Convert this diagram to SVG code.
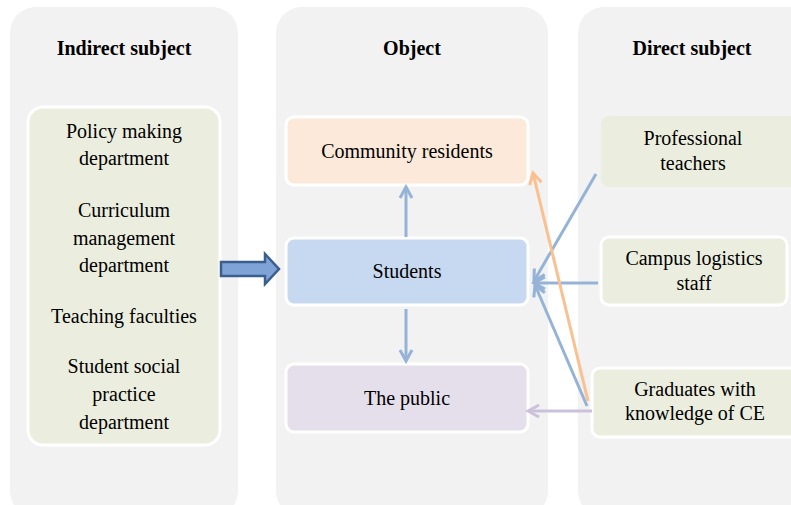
<svg xmlns="http://www.w3.org/2000/svg" width="791" height="505" viewBox="0 0 791 505">
<defs>
<style>
.panel{fill:#f2f2f2}
.t{font-family:'Liberation Serif','Times New Roman',serif;font-size:20px;fill:#000;text-anchor:middle}
.h{font-family:'Liberation Serif','Times New Roman',serif;font-size:20px;font-weight:bold;fill:#000;text-anchor:middle}
.box{stroke:#fff;stroke-width:3}
.blue{stroke:#95b3d7;stroke-width:3;fill:none}
.orange{stroke:#fac090;stroke-width:3;fill:none}
.purple{stroke:#ccc1da;stroke-width:3;fill:none}
</style>
<marker id="mb" markerWidth="16" markerHeight="16" refX="13" refY="8" orient="auto" markerUnits="userSpaceOnUse"><path d="M2,2 L13,8 L2,14" fill="none" stroke="#95b3d7" stroke-width="3"/></marker>
<marker id="mo" markerWidth="16" markerHeight="16" refX="13" refY="8" orient="auto" markerUnits="userSpaceOnUse"><path d="M2,2 L13,8 L2,14" fill="none" stroke="#fac090" stroke-width="3"/></marker>
<marker id="mp" markerWidth="16" markerHeight="16" refX="13" refY="8" orient="auto" markerUnits="userSpaceOnUse"><path d="M2,2 L13,8 L2,14" fill="none" stroke="#ccc1da" stroke-width="3"/></marker>
</defs>
<rect width="791" height="505" fill="#fff"/>
<g id="panel-indirect">
<rect class="panel" x="10" y="7" width="228" height="510" rx="26"/>
<text class="h" x="124" y="55">Indirect subject</text>
</g>
<g id="panel-object">
<rect class="panel" x="276" y="7" width="272" height="510" rx="26"/>
<text class="h" x="412" y="55">Object</text>
</g>
<g id="panel-direct">
<rect class="panel" x="578" y="7" width="240" height="510" rx="26"/>
<text class="h" x="692" y="55">Direct subject</text>
</g>
<g id="indirect-list">
<rect class="box" x="28" y="107" width="192" height="338" rx="15" fill="#ebeedf"/>
<text class="t" x="124" y="138">Policy making</text>
<text class="t" x="124" y="165">department</text>
<text class="t" x="124" y="217">Curriculum</text>
<text class="t" x="124" y="245">management</text>
<text class="t" x="124" y="272">department</text>
<text class="t" x="124" y="323">Teaching faculties</text>
<text class="t" x="124" y="373">Student social</text>
<text class="t" x="124" y="401">practice</text>
<text class="t" x="124" y="429">department</text>
</g>
<g id="community">
<rect class="box" x="286" y="117" width="242" height="68" rx="8" fill="#fce9da"/>
<text class="t" x="407" y="158">Community residents</text>
</g>
<g id="students">
<rect class="box" x="286" y="238" width="242" height="67" rx="8" fill="#c6d9f0"/>
<text class="t" x="407" y="278">Students</text>
</g>
<g id="public">
<rect class="box" x="286" y="364" width="242" height="68" rx="8" fill="#e5dfec"/>
<text class="t" x="407" y="405">The public</text>
</g>
<g id="teachers">
<rect x="601" y="116" width="200" height="71" rx="8" fill="#ebeedf"/>
<text class="t" x="693" y="145">Professional</text>
<text class="t" x="693" y="170">teachers</text>
</g>
<g id="logistics">
<rect class="box" x="601" y="237" width="186" height="68" rx="8" fill="#ebeedf"/>
<text class="t" x="694" y="265">Campus logistics</text>
<text class="t" x="694" y="290">staff</text>
</g>
<g id="graduates">
<rect class="box" x="592" y="368" width="210" height="69" rx="8" fill="#ebeedf"/>
<text class="t" x="695" y="396">Graduates with</text>
<text class="t" x="695" y="420">knowledge of CE</text>
</g>
<g id="connectors">
<path d="M221,262 H265 V254 L279,269 L265,284 V276 H221 Z" fill="#7fa3d6" stroke="#3a5f8f" stroke-width="2.5"/>
<line class="blue" x1="406" y1="237" x2="406" y2="187" marker-end="url(#mb)"/>
<line class="blue" x1="406" y1="309" x2="406" y2="361" marker-end="url(#mb)"/>
<line class="blue" x1="596" y1="174" x2="534" y2="281" marker-end="url(#mb)"/>
<line class="blue" x1="598" y1="283" x2="534" y2="283" marker-end="url(#mb)"/>
<line class="blue" x1="587" y1="406" x2="535" y2="285" marker-end="url(#mb)"/>
<line class="orange" x1="588" y1="401" x2="533" y2="173" marker-end="url(#mo)"/>
<line class="purple" x1="592" y1="411" x2="528" y2="411" marker-end="url(#mp)"/>
</g>
</svg>
